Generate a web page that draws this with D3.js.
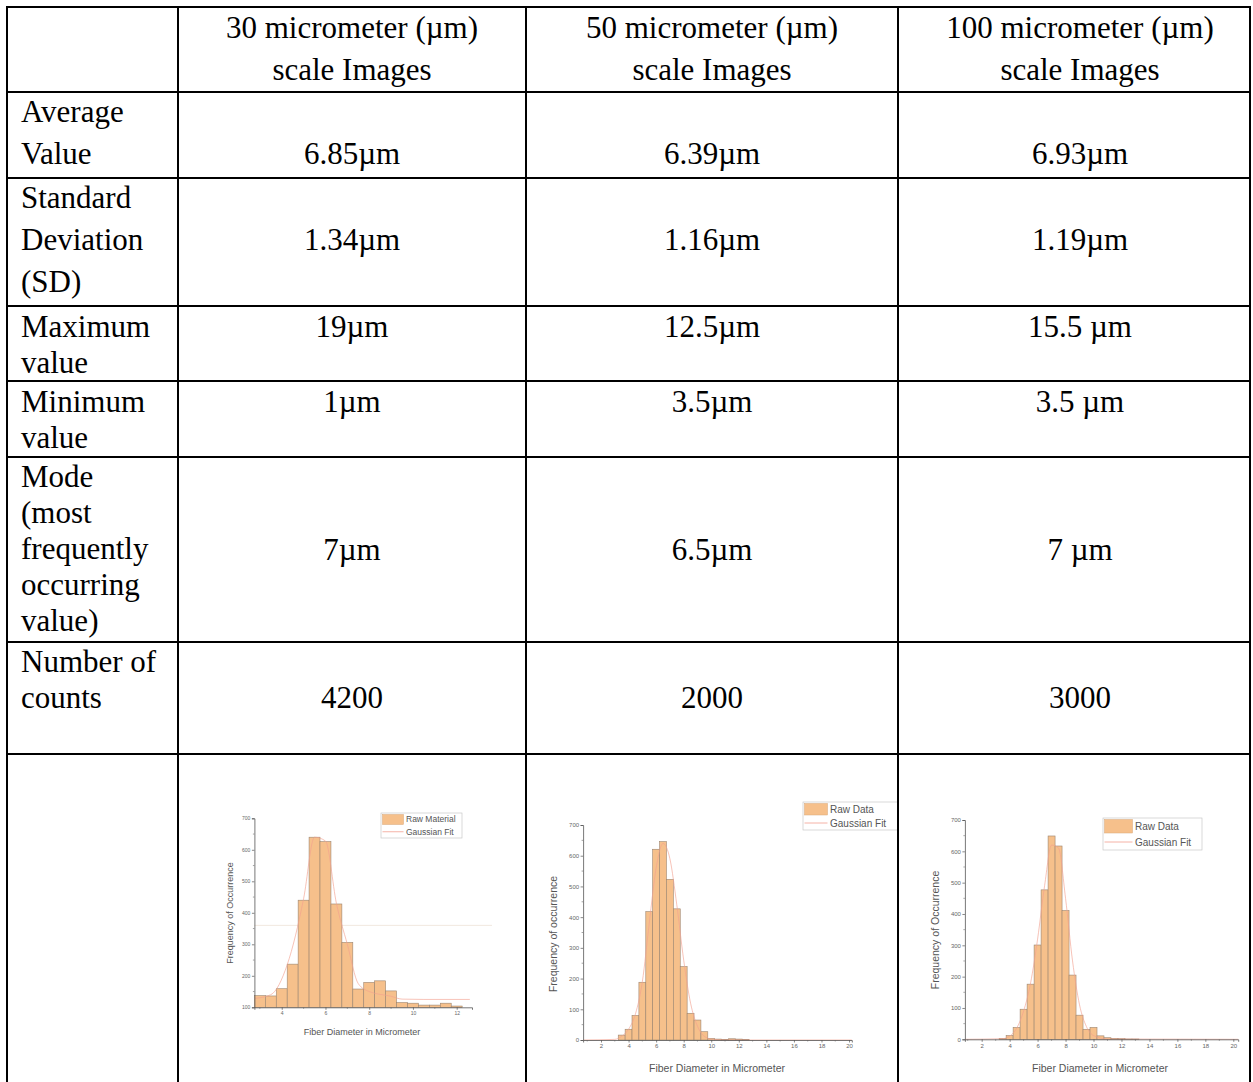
<!DOCTYPE html>
<html><head><meta charset="utf-8">
<script src="https://cdn.jsdelivr.net/npm/d3@7"></script>
<style>body{margin:0;background:#fff}svg{display:block}</style>
</head><body><svg id="c" width="1253" height="1082"></svg>
<script>
// ---------- table data ----------
const colHeaders = [["30 micrometer (µm)","scale Images"],["50 micrometer (µm)","scale Images"],["100 micrometer (µm)","scale Images"]];
const rowLabels = [["Average","Value"],["Standard","Deviation","(SD)"],["Maximum","value"],["Minimum","value"],["Mode","(most","frequently","occurring","value)"],["Number of","counts"]];
const averageValues = ["6.85µm","6.39µm","6.93µm"];
const sdValues = ["1.34µm","1.16µm","1.19µm"];
const maxValues = ["19µm","12.5µm","15.5 µm"];
const minValues = ["1µm","3.5µm","3.5 µm"];
const modeValues = ["7µm","6.5µm","7 µm"];
const countValues = ["4200","2000","3000"];

// ---------- histogram data ----------
const bins1 = [3,3.5,4,4.5,5,5.5,6,6.5,7,7.5,8,8.5,9,9.5,10,10.5,11,11.5,12];
const freq1 = [137,136,159,237,440,640,626,428,306,158,179,184,152,115,113,107,107,113,104];
const fitX1 = [2.75,3.5,4.25,5.0,5.5,6.0,6.5,7.0,7.5,8.0,9.0,9.5,10.5,12.6];
const fitY1 = [128,140,235,445,640,628,430,300,175,150,135,126,125,125];
const guide1 = [360];

const bins2 = [3.5,4,4.5,5,5.5,6,6.5,7,7.5,8,8.5,9,9.5,10,10.5,11,11.5,12,12.5];
const freq2 = [16,35,80,188,418,621,646,523,427,239,87,65,27,5,3,2,4,3,1];
const fitX2 = [0.7,3,3.5,4,4.5,5,5.5,6,6.5,7,7.5,8,8.5,9,9.5,10,11,20.2];
const fitY2 = [0,2,12,35,85,190,380,560,640,590,440,260,120,45,12,3,0,0];

const bins3 = [3.5,4,4.5,5,5.5,6,6.5,7,7.5,8,8.5,9,9.5,10,10.5,11,11.5,12,12.5,13];
const freq3 = [3,12,38,96,176,301,477,649,617,411,205,77,32,38,11,5,3,2,1,1];
const fitX3 = [0.8,3.5,4,4.5,5,5.5,6,6.5,7,7.5,8,8.5,9,9.5,10,11,20.35];
const fitY3 = [0,2,10,35,90,180,320,490,620,610,450,250,110,40,12,1,0];

const yTicks1 = [100,200,300,400,500,600,700];
const xTicks1 = [4,6,8,10,12];
const yTicks23 = [0,100,200,300,400,500,600,700];
const xTicks23 = [2,4,6,8,10,12,14,16,18,20];
const legend1 = ["Raw Material","Gaussian Fit"];
const legend23 = ["Raw Data","Gaussian Fit"];
const xTitle = "Fiber Diameter in Micrometer";
const yTitle1 = "Frequency of Occurrence";
const yTitle2 = "Frequency of occurrence";
const yTitle3 = "Frequency of Occurrence";

// ---------- drawing ----------
const svg = d3.select("#c");
svg.append("rect").attr("width",1253).attr("height",1082).attr("fill","#fff");

const colX = [7,178,526,898,1250];
const rowY = [7,92,178,306,381,457,642,754];
const valueCenters = [352,712,1080];
const serif = "'Liberation Serif','Times New Roman',serif";
const FS = 31;

const tbl = svg.append("g").attr("font-family",serif).attr("font-size",FS).attr("fill","#000");
// headers
const headerBase = [38,80];
colHeaders.forEach((h,i)=>h.forEach((t,j)=>tbl.append("text").attr("x",valueCenters[i]).attr("y",headerBase[j]).attr("text-anchor","middle").text(t)));
// rows
const labelBases = [[122,164],[208,250,292],[337,373],[412,448],[487,523,559,595,631],[672,708]];
const valueBase = [164,250,337,412,560,708];
const rowValues = [averageValues,sdValues,maxValues,minValues,modeValues,countValues];
rowLabels.forEach((lines,r)=>{
  lines.forEach((t,j)=>tbl.append("text").attr("x",21).attr("y",labelBases[r][j]).text(t));
  rowValues[r].forEach((v,i)=>tbl.append("text").attr("x",valueCenters[i]).attr("y",valueBase[r]).attr("text-anchor","middle").text(v));
});
// grid lines
const lines = svg.append("g").attr("stroke","#000").attr("stroke-width",2);
rowY.forEach(y=>lines.append("line").attr("x1",colX[0]-1).attr("x2",colX[4]+1).attr("y1",y).attr("y2",y));
colX.forEach(x=>lines.append("line").attr("x1",x).attr("x2",x).attr("y1",rowY[0]-1).attr("y2",1082));

// ---------- histogram function ----------
const sans = "'Liberation Sans',Arial,sans-serif";
function hist(o){
  const g = svg.append("g").attr("font-family",sans);
  if(o.clip){
    const id="clip"+o.id;
    svg.append("clipPath").attr("id",id).append("rect").attr("x",o.clip[0]).attr("y",o.clip[1]).attr("width",o.clip[2]).attr("height",o.clip[3]);
    g.attr("clip-path",`url(#${id})`);
  }
  const x = d3.scaleLinear().domain(o.xDomain).range(o.xRange);
  const y = d3.scaleLinear().domain(o.yDomain).range(o.yRange);
  const base = o.yDomain[0];
  // guide lines
  (o.guide||[]).forEach(v=>g.append("line").attr("x1",o.xRange[0]).attr("x2",o.xRange[1]+20).attr("y1",y(v)).attr("y2",y(v)).attr("stroke","#efe3d8").attr("stroke-width",0.8));
  // bars
  g.append("g").selectAll("rect").data(o.bins.map((b,i)=>[b,o.freq[i]])).join("rect")
    .attr("x",d=>x(d[0]-0.25)).attr("width",d=>x(d[0]+0.25)-x(d[0]-0.25))
    .attr("y",d=>y(d[1])).attr("height",d=>y(base)-y(d[1]))
    .attr("fill","#f6c08b").attr("stroke","#9c8570").attr("stroke-width",0.6);
  // fit
  const line = d3.line().x(d=>x(d[0])).y(d=>y(d[1])).curve(d3.curveMonotoneX);
  g.append("path").attr("d",line(o.fitX.map((v,i)=>[v,o.fitY[i]]))).attr("fill","none").attr("stroke","#f2a090").attr("stroke-width",0.8).attr("opacity",0.8);
  // axes
  const ax = g.append("g").attr("transform",`translate(0,${o.yRange[0]})`)
    .call(d3.axisBottom(x).tickValues(o.xTicks).tickSize(o.tick).tickPadding(1.5).tickFormat(d3.format("d")));
  const minorX = [];
  for(let v=Math.ceil(o.xDomain[0]);v<=o.xDomain[1];v+=1) if(!o.xTicks.includes(v)) minorX.push(v);
  g.append("g").attr("transform",`translate(0,${o.yRange[0]})`).selectAll("line").data(minorX).join("line")
    .attr("x1",d=>x(d)).attr("x2",d=>x(d)).attr("y1",0).attr("y2",o.tick*0.6).attr("stroke","#666").attr("stroke-width",0.6);
  const ay = g.append("g").attr("transform",`translate(${o.xRange[0]},0)`)
    .call(d3.axisLeft(y).tickValues(o.yTicks).tickSize(o.tick).tickPadding(1.5).tickFormat(d3.format("d")));
  const minorY = o.yTicks.slice(0,-1).map(v=>v+50);
  g.append("g").attr("transform",`translate(${o.xRange[0]},0)`).selectAll("line").data(minorY).join("line")
    .attr("x1",0).attr("x2",-o.tick*0.6).attr("y1",d=>y(d)).attr("y2",d=>y(d)).attr("stroke","#666").attr("stroke-width",0.6);
  [ax,ay].forEach(a=>{
    a.select(".domain").attr("stroke","#555").attr("stroke-width",0.8);
    a.selectAll(".tick line").attr("stroke","#555").attr("stroke-width",0.7);
    a.selectAll("text").attr("fill","#666").attr("font-size",o.tickFS).attr("font-family",sans);
  });
  // titles
  g.append("text").attr("x",o.xTitlePos[0]).attr("y",o.xTitlePos[1]).attr("text-anchor","middle")
    .attr("font-size",o.titleFS).attr("fill","#555").text(xTitle);
  g.append("text").attr("transform",`translate(${o.yTitlePos[0]},${o.yTitlePos[1]}) rotate(-90)`)
    .attr("text-anchor","middle").attr("dominant-baseline","central")
    .attr("font-size",o.titleFS).attr("fill","#555").text(o.yTitle);
  // legend
  const L = o.legend;
  const lg = g.append("g");
  lg.append("rect").attr("x",L.x).attr("y",L.y).attr("width",L.w).attr("height",L.h).attr("fill","#fff").attr("stroke","#c8c8c8").attr("stroke-width",0.7);
  const rh = L.h/2;
  lg.append("rect").attr("x",L.x+1.5).attr("y",L.y+1.5).attr("width",L.sw).attr("height",rh-2.5).attr("fill","#f6c08b").attr("stroke","#d8a878").attr("stroke-width",0.5);
  lg.append("line").attr("x1",L.x+1.5).attr("x2",L.x+1.5+L.sw).attr("y1",L.y+rh*1.5).attr("y2",L.y+rh*1.5).attr("stroke","#f2a090").attr("stroke-width",0.8);
  o.legendText.forEach((t,i)=>lg.append("text").attr("x",L.x+L.sw+4).attr("y",L.y+rh*(i+0.5)).attr("dominant-baseline","central")
    .attr("font-size",o.legFS).attr("fill","#555").text(t));
}

hist({id:1,bins:bins1,freq:freq1,fitX:fitX1,fitY:fitY1,guide:guide1,
  xDomain:[2.75,12.7],xRange:[254.4,472],yDomain:[100,700],yRange:[1007.3,818.3],
  xTicks:xTicks1,yTicks:yTicks1,tick:2.5,tickFS:5,titleFS:9,legFS:8.5,
  xTitlePos:[362,1035],yTitlePos:[230,913],yTitle:yTitle1,
  legend:{x:381,y:813,w:81,h:25,sw:21},legendText:legend1});

hist({id:2,bins:bins2,freq:freq2,fitX:fitX2,fitY:fitY2,clip:[527,760,370,322],
  xDomain:[0.7,20.2],xRange:[583.1,851.8],yDomain:[0,700],yRange:[1040,825],
  xTicks:xTicks23,yTicks:yTicks23,tick:2.5,tickFS:6,titleFS:10.5,legFS:10,
  xTitlePos:[717,1072],yTitlePos:[553,934],yTitle:yTitle2,
  legend:{x:803,y:802,w:105,h:28,sw:23},legendText:legend23});

hist({id:3,bins:bins3,freq:freq3,fitX:fitX3,fitY:fitY3,
  xDomain:[0.8,20.35],xRange:[964.9,1238.2],yDomain:[0,700],yRange:[1039.3,820],
  xTicks:xTicks23,yTicks:yTicks23,tick:2.5,tickFS:6,titleFS:10.5,legFS:10,
  xTitlePos:[1100,1072],yTitlePos:[935,930],yTitle:yTitle3,
  legend:{x:1103,y:818,w:99,h:32,sw:28},legendText:legend23});
</script></body></html>
